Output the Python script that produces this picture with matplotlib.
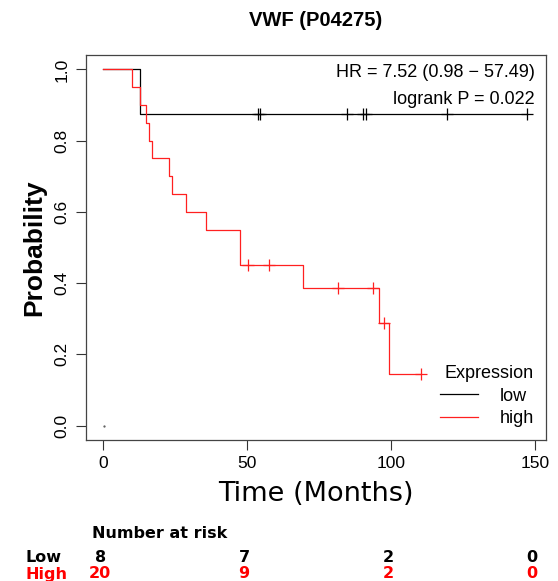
import numpy as np
import matplotlib
matplotlib.use('Agg')
import matplotlib.pyplot as plt
from matplotlib.transforms import blended_transform_factory

# event / censoring times (months)
low_events = [12.8]
low_censored = [53.8, 54.6, 84.6, 90.4, 91.3, 119.4, 147.1]
n_low = 8

high_events = [9.9, 12.8, 14.8, 15.9, 16.9, 22.9, 23.8, 28.7, 35.9,
               47.7, 47.7, 69.6, 95.7, 99.4]
high_censored = [50.3, 57.8, 81.5, 93.9, 97.7, 110.4]
n_high = 20

risk_times = [0, 50, 100, 150]
risk_low = [8, 7, 2, 0]
risk_high = [20, 9, 2, 0]

hr_text = 'HR = 7.52 (0.98 \u2212 57.49)'
p_text = 'logrank P = 0.022'


def km(events, censored):
    # product limit estimate, returns step points and censor marks
    times = sorted(set(events + censored))
    n = len(events) + len(censored)
    s = 1.0
    xs, ys = [0.0], [1.0]
    cx, cy = [], []
    for t in times:
        d = events.count(t)
        c = censored.count(t)
        if d:
            xs.append(t)
            ys.append(s)
            s = s * (n - d) / n
            xs.append(t)
            ys.append(s)
        if c:
            for _ in range(c):
                cx.append(t)
                cy.append(s)
        n -= d + c
    xs.append(times[-1])
    ys.append(s)
    return xs, ys, cx, cy


plt.rcParams['font.family'] = ['Liberation Sans', 'DejaVu Sans']

fig = plt.figure(figsize=(5.58, 5.81), dpi=100)
ax = fig.add_axes([0.154, 0.243, 0.825, 0.662])

for ev, ce, col, lab in [(low_events, low_censored, 'black', 'low'),
                         (high_events, high_censored, '#ff2020', 'high')]:
    xs, ys, cx, cy = km(ev, ce)
    ax.plot(xs, ys, color=col, lw=0.9, label=lab)
    ax.plot(cx, cy, ls='none', marker='+', ms=8, mew=0.9, color=col)

ax.plot([0.5], [0], marker='.', ms=1.2, color='#555555')

ax.set_xlim(-5.92, 153.9)
ax.set_ylim(-0.04, 1.04)
ax.set_xticks([0, 50, 100, 150])
ax.set_yticks([0, 0.2, 0.4, 0.6, 0.8, 1.0])
ax.set_yticklabels(['0.0', '0.2', '0.4', '0.6', '0.8', '1.0'], rotation=90, va='center')
ax.tick_params(labelsize=12.5, length=7, width=0.8, color='#333333', pad=5)
for sp in ax.spines.values():
    sp.set_color('#444444')
    sp.set_linewidth(0.9)

ax.set_xlabel('Time (Months)', fontsize=19.5, family='DejaVu Sans', labelpad=7)
ax.set_ylabel('Probability', fontsize=19, fontweight='bold', labelpad=6)
ax.set_title('VWF (P04275)', fontsize=14.5, fontweight='bold', pad=21)

ax.text(0.975, 0.955, hr_text, transform=ax.transAxes, ha='right', va='center', fontsize=13)
ax.text(0.975, 0.885, p_text, transform=ax.transAxes, ha='right', va='center', fontsize=13)

leg = ax.legend(title='Expression', frameon=False, loc='lower right',
                bbox_to_anchor=(1.0, 0.0), fontsize=13, title_fontsize=13,
                handlelength=2.1, handletextpad=1.2, labelspacing=0.3,
                borderaxespad=0.3)
leg._legend_box.align = 'right'

tr = blended_transform_factory(ax.transData, fig.transFigure)
fig.text(0.165, 1 - 533 / 581, 'Number at risk', fontsize=11.5, family='DejaVu Sans',
         ha='left', va='center', fontweight='bold')
fig.text(0.045, 1 - 557 / 581, 'Low', fontsize=11.5, family='DejaVu Sans',
         ha='left', va='center', fontweight='bold', color='black')
fig.text(0.045, 1 - 574 / 581, 'High', fontsize=11.5, family='DejaVu Sans',
         ha='left', va='center', fontweight='bold', color='red')
for t, a, b in zip(risk_times, risk_low, risk_high):
    fig.text(t - 1, 1 - 557 / 581, str(a), transform=tr, fontsize=11.5, family='DejaVu Sans',
             ha='center', va='center', fontweight='bold', color='black')
    fig.text(t - 1, 1 - 574 / 581, str(b), transform=tr, fontsize=11.5, family='DejaVu Sans',
             ha='center', va='center', fontweight='bold', color='red')

fig.savefig('out.png', dpi=100)
